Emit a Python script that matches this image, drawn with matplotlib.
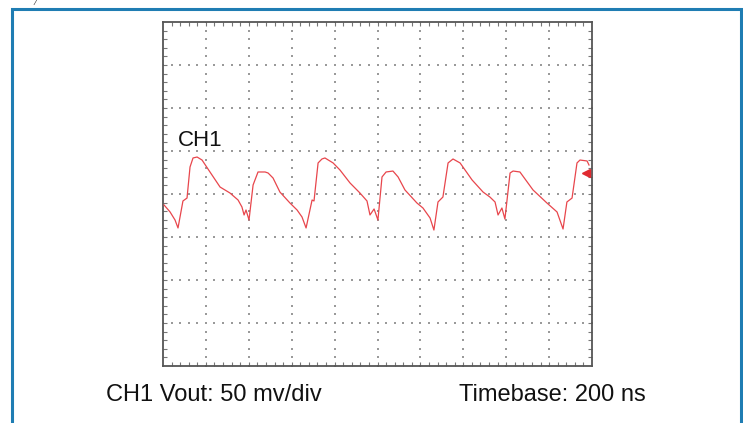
import numpy as np
import matplotlib
matplotlib.use("Agg")
import matplotlib.pyplot as plt
from matplotlib.patches import Rectangle
import matplotlib.transforms as mtransforms

# --- scope settings ---
NS_PER_DIV = 200
MV_PER_DIV = 50
N_XDIV = 10
N_YDIV = 8

# --- trace (time in ns, voltage in mV) ---
t_ns = [5, 33, 56, 70, 93, 112, 126, 140, 159, 182, 219, 266, 312, 350, 368, 378,
        387, 401, 420, 443, 476, 490, 513, 545, 592, 625, 648, 667, 685, 695, 704,
        723, 741, 755, 793, 825, 872, 918, 951, 965, 984, 1002, 1021, 1040, 1072,
        1096, 1128, 1184, 1212, 1245, 1263, 1282, 1305, 1329, 1352, 1385, 1441,
        1492, 1524, 1548, 1562, 1580, 1594, 1618, 1632, 1664, 1725, 1790, 1837,
        1865, 1883, 1907, 1930, 1944, 1977, 1986]
v_mv = [-12.8, -20.9, -30.2, -39.5, -8.1, -4.7, 31.4, 41.9, 43.0, 39.5, 25.6, 8.1,
        1.2, -7.0, -15.1, -24.4, -18.6, -30.2, 10.5, 25.6, 25.6, 24.4, 18.6, 2.3,
        -10.5, -18.6, -26.7, -39.5, -18.6, -7.0, -8.1, 36.1, 40.7, 41.9, 36.1, 27.9,
        12.8, 1.2, -8.1, -24.4, -17.4, -30.2, 19.8, 25.6, 26.7, 19.8, 4.7, -10.5,
        -16.3, -27.9, -41.9, -9.3, -3.5, 36.1, 40.7, 36.1, 16.3, 2.3, -3.5, -9.3,
        -24.4, -16.3, -29.1, 24.4, 26.7, 25.6, 4.7, -10.5, -20.9, -40.7, -9.3, -4.7,
        36.1, 39.5, 38.4, 33.7]

trigger_level_mv = 24.4

channel_label = "CH1"
scale_label = "CH1 Vout: 50 mv/div"
timebase_label = "Timebase: 200 ns"

W, H = 743, 423
fig = plt.figure(figsize=(W / 100, H / 100), dpi=100)
plt.rcParams['font.family'] = ['Liberation Sans', 'DejaVu Sans']

# blue outer frame (runs off the bottom of the picture)
fig.patches.append(Rectangle((12 / W, -0.05), (741 - 12) / W, 1.05 - 9 / H,
                             transform=fig.transFigure, fill=False,
                             edgecolor='#1f7db3', linewidth=2.2))
fig.text(33 / W, 1.0, "/", fontsize=6, color='#333333', va='top',
         style='italic')

ax = fig.add_axes([163 / W, (H - 366) / H, 429 / W, 344 / H])
xmax = NS_PER_DIV * N_XDIV
ymax = MV_PER_DIV * N_YDIV / 2
ax.set_xlim(0, xmax)
ax.set_ylim(-ymax, ymax)
ax.set_xticks([])
ax.set_yticks([])
for s in ax.spines.values():
    s.set_color('#555555')
    s.set_linewidth(1.3)

# dotted graticule: dots every fifth of a division
xmaj = np.arange(1, N_XDIV) * NS_PER_DIV
ymaj = (np.arange(1, N_YDIV) - N_YDIV / 2) * MV_PER_DIV
xmin_pts = np.arange(0, xmax + 1, NS_PER_DIV / 5)
ymin_pts = np.arange(-ymax, ymax + 1, MV_PER_DIV / 5)
gx, gy = [], []
for x in xmaj:
    gx += [x] * len(ymin_pts)
    gy += list(ymin_pts)
for y in ymaj:
    gx += list(xmin_pts)
    gy += [y] * len(xmin_pts)
ax.scatter(gx, gy, s=1.2, marker='s', color='#9a9a9a', linewidths=0, zorder=1)

# border ticks (inward, minor)
ax.set_xticks(xmin_pts[1:-1], minor=True)
ax.set_yticks(ymin_pts[1:-1], minor=True)
ax.tick_params(which='minor', direction='in', length=3, width=0.8,
               color='#777777', top=True, right=True, bottom=True, left=True)

ax.plot(t_ns, v_mv, color='#e8464c', linewidth=0.9, zorder=3)

trans = mtransforms.blended_transform_factory(ax.transAxes, ax.transData)
ax.plot([0.986], [trigger_level_mv], marker='<', markersize=5.5, color='#e02a30',
        transform=trans, clip_on=False, zorder=4)

fig.text(178 / W, 1 - 140 / H, channel_label, fontsize=16, color='#111111',
         va='center', ha='left')
fig.text(106 / W, 1 - 395 / H, scale_label, fontsize=17, color='#111111',
         va='center', ha='left')
fig.text(646 / W, 1 - 395 / H, timebase_label, fontsize=17, color='#111111',
         va='center', ha='right')

fig.savefig("out.png", dpi=100)
